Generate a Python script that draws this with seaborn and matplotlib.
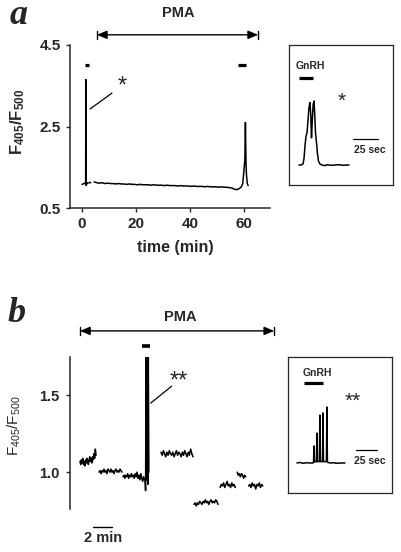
import numpy as np
import pandas as pd
import matplotlib
matplotlib.use("Agg")
import matplotlib.pyplot as plt
import seaborn as sns

# ---------------- data ----------------
# Panel a: main trace (time in min, ratio F405/F500)
a_seg1_t = [0.0, 0.4, 0.8, 1.2, 1.35, 1.45, 1.55, 1.7, 2.0, 2.2]
a_seg1_v = [1.08, 1.09, 1.10, 1.11, 1.10, 3.65, 1.05, 1.08, 1.12, 1.11]
a_seg2_t = [2.6, 2.8, 3.0, 3.2]
a_seg2_v = [1.12, 1.13, 1.12, 1.12]
a_base_t = list(np.arange(4.5, 58.0, 1.0))
a_base_v = [1.14, 1.12, 1.11, 1.12, 1.10, 1.11, 1.10, 1.10, 1.09, 1.10,
            1.09, 1.09, 1.08, 1.09, 1.08, 1.08, 1.07, 1.08, 1.07, 1.07,
            1.07, 1.06, 1.07, 1.06, 1.06, 1.06, 1.05, 1.06, 1.05, 1.05,
            1.05, 1.04, 1.05, 1.04, 1.04, 1.04, 1.03, 1.04, 1.03, 1.03,
            1.03, 1.02, 1.03, 1.02, 1.02, 1.02, 1.01, 1.02, 1.01, 1.01,
            1.00, 0.99, 0.96, 0.95]
a_tail_t = [58.0, 58.5, 59.0, 59.5, 60.0, 60.3, 60.5, 60.7, 60.9, 61.2, 61.5]
a_tail_v = [0.97, 0.99, 1.02, 1.10, 1.45, 1.70, 2.60, 1.65, 1.30, 1.10, 1.05]
a_xticks = [0, 20, 40, 60]
a_yticks = [0.5, 2.5, 4.5]

# Panel a inset (time in s)
ia_t = [10, 12, 14, 15, 16, 17, 18, 19, 20, 21, 21.7, 22.5, 23.3, 24.2, 25.0,
        25.7, 26.5, 27.5, 28.5, 29.5, 31, 33, 36, 38, 42, 46, 50, 54, 58, 60]
ia_v = [1.0, 1.0, 1.03, 1.2, 1.6, 1.9, 2.0, 2.4, 2.8, 2.95, 2.6, 1.85, 2.4, 2.9, 3.0,
        2.6, 2.0, 1.7, 1.35, 1.12, 1.03, 1.0, 0.98, 1.01, 0.99, 1.0, 1.01, 0.99, 1.0, 1.0]

# Panel b: segments (time in min)
b_segments = [
    (1.05, 2.74, [1.07, 1.05, 1.08, 1.06, 1.09, 1.05, 1.07, 1.04, 1.08, 1.06, 1.09, 1.07,
                  1.05, 1.08, 1.10, 1.07, 1.09, 1.06, 1.10, 1.08, 1.12, 1.09, 1.15, 1.11]),
    (3.05, 5.47, [1.00, 1.01, 0.99, 1.01, 1.00, 1.02, 1.00, 1.01, 0.99, 1.02, 1.01, 1.00,
                  1.02, 1.00, 1.01, 0.99, 1.01, 1.02, 1.00, 1.01, 1.00, 1.02, 1.01, 1.00]),
    (5.58, 7.85, [0.97, 0.98, 0.96, 0.98, 0.97, 0.99, 0.96, 0.98, 0.97, 0.99, 0.97, 0.98,
                  0.96, 0.99, 0.97, 1.00, 0.96, 0.98, 0.95, 0.99, 0.96, 0.94, 0.97, 0.95]),
    (7.90, 8.30, [0.95, 0.88, 1.75, 0.95, 1.75, 0.92, 1.75, 1.00]),
    (9.58, 12.95, [1.13, 1.11, 1.14, 1.12, 1.10, 1.13, 1.11, 1.14, 1.12, 1.11, 1.13, 1.10,
                   1.12, 1.14, 1.11, 1.13, 1.12, 1.10, 1.13, 1.11, 1.14, 1.12, 1.10, 1.13,
                   1.11, 1.15, 1.12, 1.10]),
    (13.05, 15.58, [0.79, 0.80, 0.78, 0.80, 0.79, 0.81, 0.80, 0.79, 0.81, 0.80, 0.82,
                    0.80, 0.81, 0.79, 0.81, 0.82, 0.80, 0.81, 0.80, 0.82, 0.81, 0.79]),
    (15.80, 17.40, [0.90, 0.92, 0.91, 0.93, 0.90, 0.92, 0.94, 0.91, 0.92, 0.90, 0.93,
                    0.91, 0.92, 0.90]),
    (17.60, 18.50, [1.00, 0.98, 0.99, 0.97, 0.99, 0.98, 0.96, 0.98, 0.97]),
    (18.80, 20.30, [0.91, 0.92, 0.90, 0.93, 0.91, 0.92, 0.89, 0.92, 0.91, 0.93, 0.90,
                    0.92, 0.91]),
]
b_yticks = [1.0, 1.5]

# Panel b inset (time in s)
ib_t = [10.7, 14, 18, 22, 26, 29.5, 30.4, 31.0, 31.6, 33.9, 34.5, 35.1, 37.4, 38.0, 38.6,
        41.1, 41.7, 42.3, 45.8, 46.4, 47.0, 50, 54, 58, 62, 67.8]
ib_v = [1.0, 1.02, 0.99, 1.01, 1.0, 1.0, 1.03, 1.61, 1.04, 1.05, 2.07, 1.05, 1.05, 2.71, 1.05,
        1.05, 2.79, 1.05, 1.05, 3.0, 1.03, 1.0, 1.01, 0.99, 1.0, 1.0]

# ---------------- build tables ----------------
df_a = pd.DataFrame({
    "t": a_seg1_t + a_seg2_t + a_base_t + a_tail_t,
    "v": a_seg1_v + a_seg2_v + a_base_v + a_tail_v,
    "seg": [0] * len(a_seg1_t) + [1] * len(a_seg2_t) + [2] * (len(a_base_t) + len(a_tail_t)),
})
rows = []
for k, (t0, t1, vals) in enumerate(b_segments):
    ts = np.linspace(t0, t1, len(vals))
    for t, v in zip(ts, vals):
        rows.append((t, v, k))
df_b = pd.DataFrame(rows, columns=["t", "v", "seg"])
df_ia = pd.DataFrame({"t": ia_t, "v": ia_v})
df_ib = pd.DataFrame({"t": ib_t, "v": ib_v})

# ---------------- style ----------------
sns.set_style("ticks")
plt.rcParams["font.family"] = ["Liberation Sans", "DejaVu Sans"]
plt.rcParams["mathtext.fontset"] = "custom"
plt.rcParams["mathtext.rm"] = "Liberation Sans"
plt.rcParams["mathtext.bf"] = "Liberation Sans:bold"
plt.rcParams["mathtext.it"] = "Liberation Sans:italic"

W, H = 401, 552
fig = plt.figure(figsize=(W / 100, H / 100), dpi=100)

def rect(x0, x1, ytop, ybot):
    return [x0 / W, (H - ybot) / H, (x1 - x0) / W, (ybot - ytop) / H]

LW = 1.1
# ---------------- panel a ----------------
ax = fig.add_axes(rect(70, 270, 45, 208))
sns.lineplot(data=df_a, x="t", y="v", units="seg", estimator=None, sort=False,
             color="black", lw=LW, ax=ax)
ax.set_xlim(-4.44, 69.6)
ax.set_ylim(0.5, 4.5)
ax.set_xticks(a_xticks)
ax.set_yticks(a_yticks)
ax.set_yticklabels([f"{v:.1f}" for v in a_yticks])
sns.despine(ax=ax)
for s in ["left", "bottom"]:
    ax.spines[s].set_linewidth(1.1)
ax.tick_params(axis="both", length=3, width=1.0, labelsize=11, pad=3.5)
for lab in ax.get_xticklabels() + ax.get_yticklabels():
    lab.set_fontweight("bold")
ax.set_xlabel("time (min)", fontsize=11.5, fontweight="bold")
ax.xaxis.set_label_coords(0.525, -0.24)
ax.xaxis.label.set_verticalalignment("center")
ax.set_ylabel(r"$\mathbf{F_{405}/F_{500}}$", fontsize=12)
ax.yaxis.set_label_coords(-0.26, 0.53)
ax.yaxis.label.set_verticalalignment("center")

# PMA arrow
ya = 4.75
ax.annotate("", xy=(65.2, ya), xytext=(5.5, ya), annotation_clip=False,
            arrowprops=dict(arrowstyle="<|-|>,head_length=0.6,head_width=0.25",
                            color="black", lw=1.0, shrinkA=0, shrinkB=0, mutation_scale=10))
for xx in (5.5, 65.2):
    ax.plot([xx, xx], [ya - 0.1, ya + 0.1], color="black", lw=1.0, clip_on=False)
ax.text(35.5, 5.29, "PMA", ha="center", va="center", fontsize=10.5, fontweight="bold",
        clip_on=False)
# GnRH application bars
ax.plot([1.1, 2.6], [4.0, 4.0], color="black", lw=2.3, solid_capstyle="butt", clip_on=False)
ax.plot([57.8, 60.7], [4.0, 4.0], color="black", lw=2.3, solid_capstyle="butt", clip_on=False)
# annotation
ax.plot([3.0, 11.1], [2.93, 3.32], color="black", lw=0.9)
ax.text(14.8, 3.47, "*", ha="center", va="center", fontsize=17)

# inset a
iax = fig.add_axes(rect(289, 393, 45, 185))
sns.lineplot(data=df_ia, x="t", y="v", estimator=None, sort=False, color="black", lw=LW, ax=iax)
iax.set_xlim(0, 104)
iax.set_ylim(0.375, 4.75)
iax.set_xticks([]); iax.set_yticks([])
iax.set_xlabel(""); iax.set_ylabel("")
for s in iax.spines.values():
    s.set_linewidth(0.9)
iax.plot([10, 24], [3.72, 3.72], color="black", lw=2.3, solid_capstyle="butt")
iax.text(21.5, 4.09, "GnRH", ha="center", va="center", fontsize=7.5, fontweight="bold")
iax.text(53, 3.0, "*", ha="center", va="center", fontsize=15)
iax.plot([64, 89], [1.81, 1.81], color="black", lw=0.9)
iax.text(80.5, 1.47, "25 sec", ha="center", va="center", fontsize=7.5, fontweight="bold")

# ---------------- panel b ----------------
bx = fig.add_axes(rect(70, 275, 357, 509))
sns.lineplot(data=df_b, x="t", y="v", units="seg", estimator=None, sort=False,
             color="black", lw=LW, ax=bx)
bx.set_xlim(0, 21.58)
bx.set_ylim(0.76, 1.75)
bx.set_yticks(b_yticks)
bx.set_yticklabels([f"{v:.1f}" for v in b_yticks])
bx.set_xticks([])
sns.despine(ax=bx, bottom=True)
bx.spines["left"].set_linewidth(1.1)
bx.tick_params(axis="y", length=3, width=1.0, labelsize=10.5, pad=4.5)
for lab in bx.get_yticklabels():
    lab.set_fontweight("bold")
bx.set_xlabel("")
bx.set_ylabel(r"$\mathrm{F_{405}/F_{500}}$", fontsize=11)
bx.yaxis.set_label_coords(-0.27, 0.546)
bx.yaxis.label.set_verticalalignment("center")

yb = 1.92
bx.annotate("", xy=(21.5, yb), xytext=(1.05, yb), annotation_clip=False,
            arrowprops=dict(arrowstyle="<|-|>,head_length=0.6,head_width=0.25",
                            color="black", lw=1.0, shrinkA=0, shrinkB=0, mutation_scale=10))
for xx in (1.05, 21.5):
    bx.plot([xx, xx], [yb - 0.026, yb + 0.026], color="black", lw=1.0, clip_on=False)
bx.text(11.6, 2.01, "PMA", ha="center", va="center", fontsize=10.5, fontweight="bold",
        clip_on=False)
bx.plot([7.6, 8.4], [1.82, 1.82], color="black", lw=2.6, solid_capstyle="butt", clip_on=False)
bx.plot([8.5, 10.7], [1.45, 1.56], color="black", lw=0.9)
bx.text(11.4, 1.59, "**", ha="center", va="center", fontsize=17)
# 2 min scale bar
bx.plot([2.42, 4.42], [0.643, 0.643], color="black", lw=1.0, clip_on=False)
bx.text(3.5, 0.572, "2 min", ha="center", va="center", fontsize=10.5, fontweight="bold",
        clip_on=False)

# inset b
jax = fig.add_axes(rect(288, 392, 357, 493))
sns.lineplot(data=df_ib, x="t", y="v", estimator=None, sort=False, color="black", lw=LW, ax=jax)
jax.set_xlim(0, 124)
jax.set_ylim(-0.071, 4.786)
jax.set_xticks([]); jax.set_yticks([])
jax.set_xlabel(""); jax.set_ylabel("")
for s in jax.spines.values():
    s.set_linewidth(0.9)
jax.plot([19, 41.7], [3.86, 3.86], color="black", lw=2.3, solid_capstyle="butt")
jax.text(34.5, 4.21, "GnRH", ha="center", va="center", fontsize=7.5, fontweight="bold")
jax.text(77, 3.2, "**", ha="center", va="center", fontsize=15)
jax.plot([81, 106], [1.46, 1.46], color="black", lw=0.9)
jax.text(97.6, 1.07, "25 sec", ha="center", va="center", fontsize=7.5, fontweight="bold")

# panel letters
fig.text(19 / W, 1 - 15 / H, "a", ha="center", va="center", fontsize=26,
         fontweight="bold", fontstyle="italic", family="Liberation Serif")
fig.text(17 / W, 1 - 313 / H, "b", ha="center", va="center", fontsize=26,
         fontweight="bold", fontstyle="italic", family="Liberation Serif")

fig.savefig("out.png", dpi=100)
